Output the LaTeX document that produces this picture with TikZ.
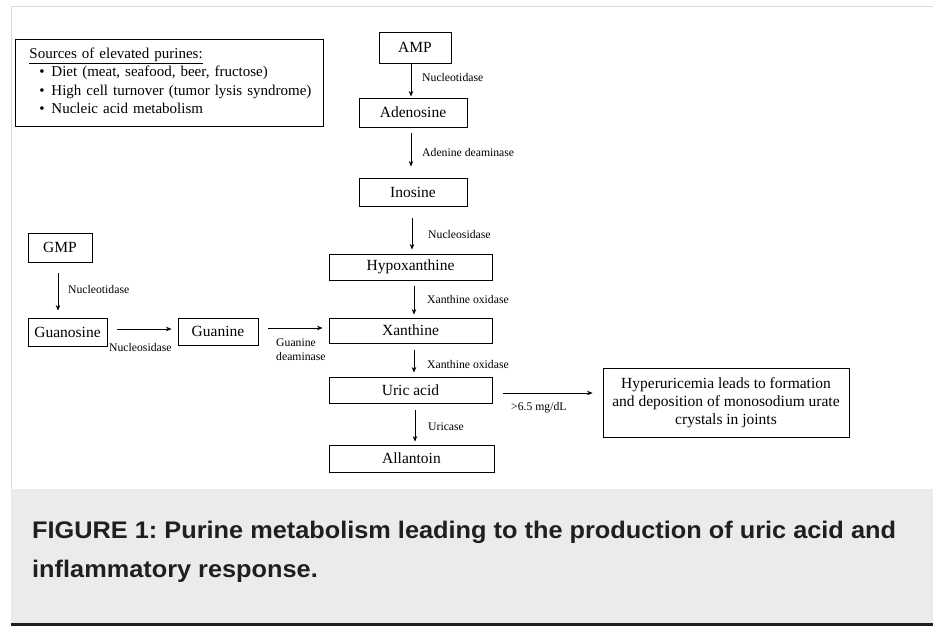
\documentclass[tikz,border=0pt]{standalone}
\usepackage{fontspec}
\setmainfont{Liberation Serif}
\newfontfamily\capfont{Liberation Sans}
\usetikzlibrary{arrows.meta}
\definecolor{capgray}{HTML}{EBEBEB}
\definecolor{frameline}{HTML}{DADADA}
\newcommand\srcitem[1]{\hspace*{20pt}\makebox[12pt][l]{\textbullet}#1}
\frenchspacing
\begin{document}
\begin{tikzpicture}[x=1pt,y=-1pt,
  box/.style={draw, line width=0.9pt, inner sep=0pt, font=\fontsize{15.5}{18}\selectfont},
  lab/.style={anchor=west, inner sep=0pt, font=\fontsize{11.7}{14}\selectfont},
  capt/.style={anchor=base west, inner sep=0pt, text=black!88,
      font=\capfont\bfseries\fontsize{24}{28}\selectfont},
  arr/.style={line width=0.8pt, -{Stealth[length=5.5pt,width=4.5pt]}}]

\useasboundingbox (0,0) rectangle (933,626);
\fill[white] (0,0) rectangle (933,626);
% frame and caption panel
\draw[frameline, line width=1pt] (11,7) -- (933,7);
\draw[frameline, line width=1pt] (11.5,7) -- (11.5,489);
\fill[capgray] (11,489) rectangle (933,623);
\fill[black!88] (11,623) rectangle (933,626);

% sources box
\node[box, anchor=north west, text width=300pt, inner xsep=4pt, inner ysep=0pt,
      minimum height=87pt, align=left, font=\fontsize{15}{18.3}\selectfont] (src) at (15,39)
  {\hspace*{10pt}\underline{Sources of elevated purines:}\\
   \srcitem{Diet (meat, seafood, beer, fructose)}\\
   \srcitem{High cell turnover (tumor lysis syndrome)}\\
   \srcitem{Nucleic acid metabolism}\\[-14pt]\mbox{}};

% main column
\node[box, minimum width=72pt,  minimum height=31pt] (amp)   at (415,47.5)  {AMP};
\node[box, minimum width=108pt, minimum height=29pt] (aden)  at (413,112.5) {Adenosine};
\node[box, minimum width=108pt, minimum height=28pt] (ino)   at (413,192)   {Inosine};
\node[box, minimum width=163pt, minimum height=26pt] (hypo)  at (410.5,267) {Hypoxanthine};
\node[box, minimum width=163pt, minimum height=25pt] (xan)   at (410.5,330.5) {Xanthine};
\node[box, minimum width=163pt, minimum height=26pt] (uric)  at (410.5,390) {Uric acid};
\node[box, minimum width=165pt, minimum height=27pt] (allan) at (411.5,458.5) {Allantoin};

% guanine branch
\node[box, minimum width=64pt, minimum height=29pt] (gmp)  at (60,247.5)  {GMP};
\node[box, minimum width=79pt, minimum height=28pt] (guo)  at (67.5,332)  {Guanosine};
\node[box, minimum width=80pt, minimum height=27pt] (gua)  at (218,331.5)  {Guanine};

% outcome
\node[box, minimum width=246pt, minimum height=69pt, align=center] (hyper) at (726,402.5)
  {Hyperuricemia leads to formation\\ and deposition of monosodium urate\\ crystals in joints};

% vertical arrows
\draw[arr, shorten >=1pt]                 (amp.south -| 411,0)  -- (aden.north -| 411,0);
\draw[arr, shorten <=6pt, shorten >=11pt] (aden.south -| 411,0) -- (ino.north -| 411,0);
\draw[arr, shorten <=12pt, shorten >=4pt] (ino.south -| 412,0)  -- (hypo.north -| 412,0);
\draw[arr, shorten <=6pt, shorten >=3pt]  (hypo.south -| 414,0) -- (xan.north -| 414,0);
\draw[arr, shorten <=7pt, shorten >=4pt]  (xan.south -| 414,0)  -- (uric.north -| 414,0);
\draw[arr, shorten <=7pt, shorten >=3pt]  (uric.south -| 415,0) -- (allan.north -| 415,0);
\draw[arr, shorten <=11pt, shorten >=7pt] (gmp.south -| 58,0)   -- (guo.north -| 58,0);

% horizontal arrows
\draw[arr, shorten <=10pt, shorten >=6pt]  (guo.east |- 0,329)  -- (gua.west |- 0,329);
\draw[arr, shorten <=10pt, shorten >=6pt]  (gua.east |- 0,328)  -- (xan.west |- 0,328);
\draw[arr, shorten <=11pt, shorten >=10pt] (uric.east |- 0,393) -- (hyper.west |- 0,393);

% enzyme labels
\node[lab] (l1) at (422,77)  {Nucleotidase};
\node[lab] (l2) at (422,152) {Adenine deaminase};
\node[lab] (l3) at (428,234) {Nucleosidase};
\node[lab] (l4) at (427,299) {Xanthine oxidase};
\node[lab] (l5) at (427,364) {Xanthine oxidase};
\node[lab] (l6) at (428,427) {Uricase};
\node[lab] (l7) at (68,289)  {Nucleotidase};
\node[lab] (l8) at (109,347) {Nucleosidase};
\node[lab, align=left, font=\fontsize{11.7}{14}\selectfont] (l9) at (276,350) {Guanine\\deaminase};
\node[lab] (l10) at (511,408) {>6.5 mg/dL};

% caption
\node[capt] (cap1) at (32,538)
  {\scalebox{1.055}[1]{FIGURE 1: Purine metabolism leading to the production of uric acid and}};
\node[capt] (cap2) at (32,577)
  {\scalebox{1.055}[1]{inflammatory response.}};
\end{tikzpicture}
\end{document}
